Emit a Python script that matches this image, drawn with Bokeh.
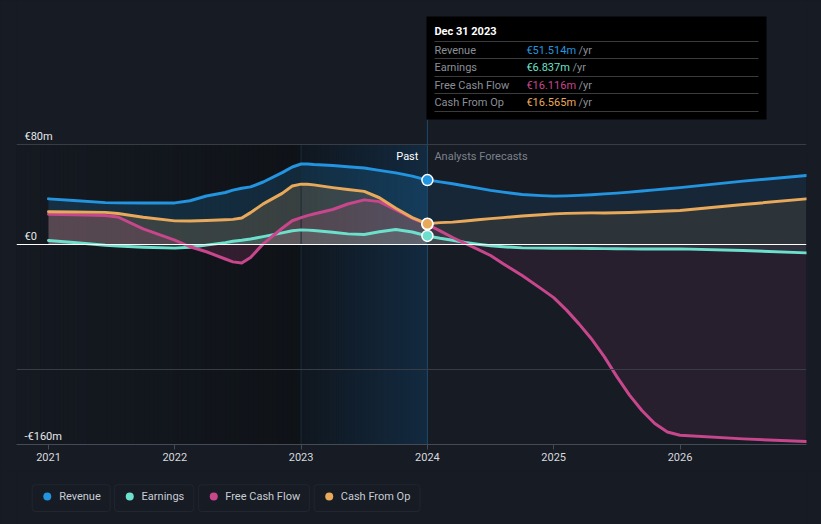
import numpy as np
from bokeh.plotting import figure
from bokeh.models import Range1d, FixedTicker, Span, BoxAnnotation, CustomJS
from bokeh.layouts import column
from bokeh.core.properties import value
from bokeh.document import Document
from bokeh.embed import file_html
from bokeh.resources import INLINE

# ---------------- data ----------------
past_x = [2021.0, 2021.2, 2021.45, 2021.55, 2021.75, 2022.0, 2022.12, 2022.25, 2022.4, 2022.46,
          2022.53, 2022.6, 2022.7, 2022.85, 2022.93, 2023.0, 2023.05, 2023.1, 2023.25, 2023.37,
          2023.5, 2023.62, 2023.75, 2023.88, 2024.0]
revenue_past = [36.5, 35.2, 33.5, 33.3, 33.3, 33.3, 35.0, 38.8, 41.6, 43.5,
                45.0, 46.1, 50.0, 57.5, 62.0, 64.4, 64.4, 64.0, 63.2, 62.2,
                61.2, 59.3, 57.3, 54.7, 51.514]
earnings_past = [3.2, 1.6, -0.6, -1.2, -2.2, -2.9, -2.2, -0.5, 1.5, 2.6,
                 3.4, 4.4, 6.3, 9.3, 11.0, 11.7, 11.5, 11.2, 9.8, 8.5,
                 8.0, 10.2, 12.0, 10.0, 6.837]
fcf_past = [24.2, 23.8, 23.2, 22.0, 12.5, 3.5, -1.8, -5.8, -11.6, -13.9,
            -14.8, -10.4, 0.5, 13.0, 19.0, 21.5, 23.1, 24.4, 28.0, 32.4,
            35.7, 34.3, 27.7, 21.0, 16.116]
cfo_past = [26.2, 26.0, 25.7, 24.8, 21.8, 18.9, 18.8, 19.2, 19.8, 20.1,
            21.2, 25.5, 32.5, 40.9, 46.8, 48.3, 48.2, 47.7, 45.5, 44.0,
            42.5, 37.4, 29.0, 21.5, 16.565]

fc_x = [2024.0, 2024.1, 2024.2, 2024.3, 2024.4, 2024.5, 2024.6, 2024.75, 2024.9, 2025.0,
        2025.1, 2025.2, 2025.3, 2025.4, 2025.5, 2025.6, 2025.7, 2025.8, 2025.9, 2026.0,
        2026.5, 2027.0]
revenue_fc = [51.514, 50.1, 48.6, 46.8, 45.1, 43.3, 41.9, 40.0, 39.1, 38.7,
              38.9, 39.3, 39.8, 40.5, 41.1, 41.9, 42.8, 43.7, 44.6, 45.5,
              50.7, 55.2]
earnings_fc = [6.837, 5.0, 3.4, 1.6, 0.2, -1.0, -1.8, -2.7, -2.9, -2.9,
               -3.0, -3.1, -3.2, -3.3, -3.4, -3.5, -3.5, -3.5, -3.5, -3.5,
               -4.8, -6.7]
fcf_fc = [16.116, 10.9, 5.6, 0.8, -3.9, -8.8, -15.4, -24.8, -35.3, -42.5,
          -52.3, -63.5, -75.6, -89.7, -105.7, -120.5, -133.0, -143.2, -150.0, -152.6,
          -155.5, -157.6]
cfo_fc = [16.565, 17.5, 17.9, 18.8, 19.8, 20.7, 21.5, 22.8, 23.8, 24.5,
          24.9, 25.1, 25.3, 25.3, 25.4, 25.6, 26.0, 26.4, 26.8, 27.2,
          32.0, 36.5]

series_names = ["Revenue", "Earnings", "Free Cash Flow", "Cash From Op"]
series_colors = ["#2394df", "#6ce0cc", "#c8468c", "#e8a95b"]
tooltip_date = "Dec 31 2023"
tooltip_values = ["€51.514m", "€6.837m", "€16.116m", "€16.565m"]

year_ticks = [2021, 2022, 2023, 2024, 2025, 2026]
year_labels = ["2021", "2022", "2023", "2024", "2025", "2026"]
y_label_values = [80, 0, -160]
y_label_texts = ["€80m", "€0", "-€160m"]
grid_values = [80, -100]
past_start, past_end = 2023.0, 2024.0

# ---------------- layout helpers (page pixel -> data) ----------------
BG = "#161b24"
FONT = value("Roboto")
PX_PER_YEAR = 126.3
PX_PER_M = 1.25


def px2x(px):
    return 2021.0 + (px - 48) / PX_PER_YEAR


def py2y(py):
    return (244 - py) / PX_PER_M


x_start, x_end = px2x(16), px2x(806)
y_bottom, y_top = py2y(444), py2y(0)

p = figure(width=821, height=470, x_range=Range1d(x_start, x_end),
           y_range=Range1d(y_bottom, y_top), output_backend="svg",
           toolbar_location=None, y_axis_location=None, title=None,
           min_border_left=16, min_border_right=15, min_border_top=0, min_border_bottom=26,
           background_fill_color=BG, border_fill_color=BG, outline_line_color=None)
p.xgrid.visible = False
p.ygrid.visible = False


def lerp_colors(c0, c1, n):
    a = np.array([int(c0[i:i + 2], 16) for i in (1, 3, 5)], float)
    b = np.array([int(c1[i:i + 2], 16) for i in (1, 3, 5)], float)
    out = []
    for t in np.linspace(0, 1, n):
        c = a + (b - a) * t
        out.append("#%02x%02x%02x" % tuple(int(round(v)) for v in c))
    return out


def gradient_band(x0, x1, c0, c1, n):
    edges = np.linspace(x0, x1, n + 1)
    overlap = (x1 - x0) / n * 0.6
    right = edges[1:] + overlap
    right[-1] = x1
    p.quad(left=edges[:-1], right=right, bottom=y_bottom, top=grid_values[0],
           fill_color=lerp_colors(c0, c1, n), line_color=None)


gradient_band(x_start, past_start, "#151a22", "#0f1318", 60)   # darker past
gradient_band(past_start, past_end, "#10171f", "#132a40", 60)  # last-year highlight

# gridlines
for g in grid_values:
    p.add_layout(Span(location=g, dimension="width", line_color="#383d45", line_width=1))

# fills
past_series = [revenue_past, earnings_past, fcf_past, cfo_past]
fc_series = [revenue_fc, earnings_fc, fcf_fc, cfo_fc]
for ys, col in zip(past_series, series_colors):
    p.varea(x=past_x, y1=0, y2=ys, fill_color=col, fill_alpha=0.18)
for ys, col in zip(fc_series, series_colors):
    p.varea(x=fc_x, y1=0, y2=ys, fill_color=col, fill_alpha=0.1)

# vertical period lines
p.segment(x0=[past_start], x1=[past_start], y0=[y_bottom], y1=[grid_values[0]],
          line_color="#1a2a38", line_width=1)
p.segment(x0=[past_end], x1=[past_end], y0=[y_bottom], y1=[py2y(119)],
          line_color="#1f4a6b", line_width=1)

# zero line
p.add_layout(Span(location=0, dimension="width", line_color="#ffffff", line_width=1.2))

# lines
for ys_p, ys_f, col in zip(past_series, fc_series, series_colors):
    p.line(x=past_x + fc_x[1:], y=ys_p + ys_f[1:], line_color=col, line_width=3,
           line_join="round", line_cap="round")

# markers at the tooltip date
p.scatter(x=[past_end] * 4, y=[s[-1] for s in past_series], size=11,
          fill_color=series_colors, line_color="#ffffff", line_width=1.5)

# Past / Analysts Forecasts
p.text(x=[past_end], y=[py2y(156)], text=["Past"], text_font=FONT, text_font_size="11px",
       text_color="#ffffff", text_align="right", text_baseline="middle", x_offset=-9)
p.text(x=[past_end], y=[py2y(156)], text=["Analysts Forecasts"], text_font=FONT,
       text_font_size="11px", text_color="#7d828b", text_align="left",
       text_baseline="middle", x_offset=7)

# y labels (inside plot)
p.text(x=[x_start] * 3, y=y_label_values, text=y_label_texts, text_font=FONT,
       text_font_size="11px", text_color="#e6e8eb", text_align="left",
       text_baseline="alphabetic", x_offset=8, y_offset=-8)

# tooltip box
p.quad(left=[px2x(426)], right=[px2x(766)], top=[py2y(16)], bottom=[py2y(119)],
       fill_color="#000000", line_color=None)
sep_y = [py2y(v) for v in (41, 58, 76, 93, 111)]
p.segment(x0=[px2x(434)] * 5, x1=[px2x(758)] * 5, y0=sep_y, y1=sep_y,
          line_color="#3a3b3d", line_width=1)
p.text(x=[past_end], y=[py2y(31)], text=[tooltip_date], text_font=FONT,
       text_font_size="11px", text_font_style="bold", text_color="#ffffff",
       text_align="left", text_baseline="middle", x_offset=7)
row_y = [py2y(v) for v in (49.5, 67, 84.5, 102)]
p.text(x=[past_end] * 4, y=row_y, text=series_names, text_font=FONT,
       text_font_size="11px", text_color="#8a8f97", text_align="left",
       text_baseline="middle", x_offset=7)
p.text(x=[past_end] * 4, y=row_y, text=tooltip_values, text_font=FONT,
       text_font_size="11px", text_color=series_colors, text_align="left",
       text_baseline="middle", x_offset=99)
p.text(x=[past_end] * 4, y=row_y, text=["/yr"] * 4, text_font=FONT,
       text_font_size="11px", text_color="#8a8f97", text_align="left",
       text_baseline="middle", x_offset=[151, 145, 151, 151])

# x axis
ax = p.xaxis[0]
ax.ticker = FixedTicker(ticks=year_ticks)
ax.major_label_overrides = {t: l for t, l in zip(year_ticks, year_labels)}
ax.minor_tick_line_color = None
ax.axis_line_color = "#454b55"
ax.major_tick_line_color = "#454b55"
ax.major_tick_out = 5
ax.major_tick_in = 0
ax.major_label_standoff = 3
ax.major_label_text_font = "Roboto"
ax.major_label_text_font_size = "11px"
ax.major_label_text_color = "#d6d9de"

# ---------------- legend strip (page y 470..524) ----------------
leg = figure(width=821, height=54, x_range=Range1d(0, 821), y_range=Range1d(54, 0),
             output_backend="svg", toolbar_location=None, x_axis_location=None,
             y_axis_location=None, title=None, min_border=0,
             background_fill_color=BG, border_fill_color=BG, outline_line_color=None)
leg.grid.visible = False
box_l = [16.3, 102, 189.3, 309.3]
box_r = [97.3, 184.3, 304.3, 419.3]
for l, r in zip(box_l, box_r):
    leg.add_layout(BoxAnnotation(left=l, right=r, top=14.3, bottom=41, fill_alpha=0,
                                 line_color="#3b414a", line_width=1, border_radius=3))
leg.scatter(x=[32, 117.7, 205, 325], y=[26] * 4, size=8, fill_color=series_colors,
            line_color=None)
leg.text(x=[44.3, 130, 217, 337], y=[26] * 4, text=series_names, text_font=FONT,
         text_font_size="11px", text_color="#c9cdd3", text_align="left",
         text_baseline="middle")

layout = column(p, leg, spacing=0)
doc = Document()
doc.add_root(layout)
doc.js_on_event("document_ready", CustomJS(code="document.body.style.background='%s';" % BG))

open("out.html", "w").write(file_html(layout, INLINE))
